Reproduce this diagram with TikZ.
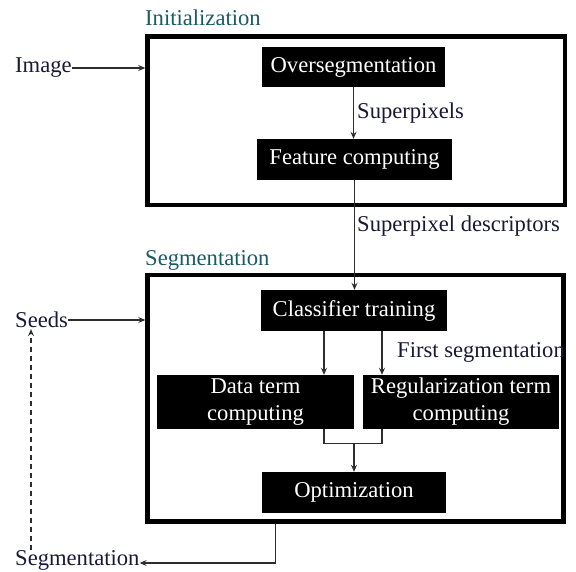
\documentclass[tikz,border=0pt]{standalone}
\usepackage{fontspec}
\setmainfont{Liberation Serif}
\usetikzlibrary{arrows.meta}
\definecolor{titlecol}{RGB}{25,90,100}
\definecolor{labcol}{RGB}{25,25,55}
\definecolor{linecol}{RGB}{45,45,45}
\tikzset{
  bigbox/.style={draw=black, line width=4.5pt, fill=white, inner sep=0pt},
  blackbox/.style={fill=black, text=white, inner sep=0pt, align=center,
    font=\fontsize{22.6}{27}\selectfont},
  lab/.style={inner sep=0pt, anchor=west, text=labcol, font=\fontsize{22.6}{27}\selectfont},
  ttl/.style={inner sep=0pt, anchor=west, text=titlecol, font=\fontsize{22.6}{27}\selectfont},
  conn/.style={draw=linecol, line width=1.1pt},
  arr/.style={conn, -{Stealth[length=7pt,width=6pt,inset=2.5pt]}}
}
\begin{document}
\begin{tikzpicture}[x=1pt,y=-1pt]
\useasboundingbox (0,0) rectangle (576,572);
% boxes
\node[bigbox, minimum width=417.5pt, minimum height=168.5pt] (init) at (356.25,120.75) {};
\node[bigbox, minimum width=416pt, minimum height=246.5pt] (segb) at (355.5,398.25) {};
% titles
\node[ttl] (tinit) at (145,18) {Initialization};
\node[ttl] (tseg) at (145,260) {Segmentation};
% inner nodes
\node[blackbox, minimum width=183pt, minimum height=40pt] (over) at (353.5,67) {Oversegmentation};
\node[blackbox, minimum width=195pt, minimum height=41pt] (feat) at (354.5,159.5) {Feature computing};
\node[blackbox, minimum width=186pt, minimum height=41pt] (class) at (354,310.5) {Classifier training};
\node[blackbox, minimum width=197pt, minimum height=54pt] (data) at (255.5,402) {Data term\\computing};
\node[blackbox, minimum width=196pt, minimum height=54pt] (reg) at (461,402) {Regularization term\\computing};
\node[blackbox, minimum width=184pt, minimum height=41pt] (opt) at (354,492.5) {Optimization};
% labels
\node[lab] (lsp) at (357,113) {Superpixels};
\node[lab] (lspd) at (357,226) {Superpixel descriptors};
\node[lab] (lfs) at (397,352) {First segmentation};
\node[lab] (img) at (15,68) {Image};
\node[lab] (seeds) at (15,320) {Seeds};
\node[lab] (segout) at (15,560) {Segmentation};
% connectors
\draw[arr] (img.east) -- (img.east -| init.west);
\draw[arr] (seeds.east) -- (seeds.east -| segb.west);
\draw[arr] (over.south) -- (over.south |- feat.north);
\draw[arr] (feat.south) -- (feat.south |- class.north);
\draw[arr] ([xshift=-30pt]class.south) -- ([xshift=-30pt]class.south |- data.north);
\draw[arr] ([xshift=28pt]class.south) -- ([xshift=28pt]class.south |- reg.north);
\coordinate (mL) at ([xshift=-30pt,yshift=-14pt]class.south |- data.south);
\coordinate (mR) at ([xshift=28pt,yshift=-14pt]class.south |- reg.south);
\draw[conn] ([xshift=-30pt]class.south |- data.south) -- (mL) -- (mR) -- ([xshift=28pt]class.south |- reg.south);
\coordinate (mC) at (mL -| opt.north);
\draw[arr] (mC) -- (opt.north);
\coordinate (sbot) at ([xshift=-80pt]segb.south);
\draw[arr] (sbot) -- (sbot |- 0,563) -- (segout.east |- 0,563);
\draw[arr, dashed, dash pattern=on 5pt off 4pt] ([xshift=16pt]segout.north west) -- ([xshift=16pt,yshift=-1pt]seeds.south west);
\end{tikzpicture}
\end{document}
